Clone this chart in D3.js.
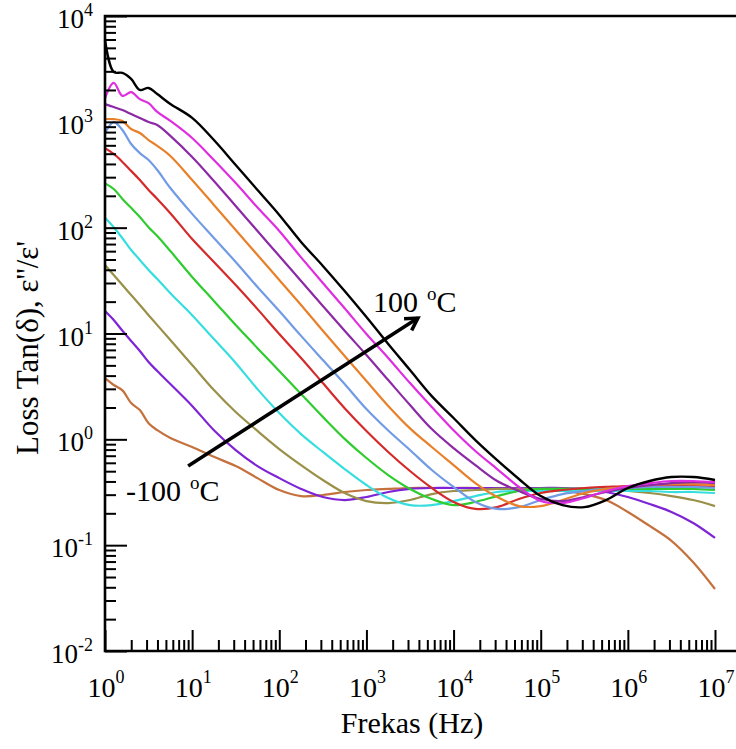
<!DOCTYPE html>
<html>
<head>
<meta charset="utf-8">
<script src="https://cdn.jsdelivr.net/npm/d3@7"></script>
<style>
body { margin: 0; background: #fff; }
svg { display: block; font-family: "Liberation Serif", "Times New Roman", serif; }
</style>
</head>
<body>
<div class="chart"></div>
<script>
// frequency grid (Hz), shared by all curves
const freq = [1, 1.259, 1.585, 1.995, 2.512, 3.162, 3.981, 5.623, 10, 17.78, 31.62, 56.23,
    100, 177.8, 316.2, 562.3, 1000, 1778, 3162, 5623, 1e4, 17780, 31620, 56230,
    1e5, 177800, 316200, 562300, 1e6, 1778000, 3162000, 5623000, 1e7]

// loss tangent per temperature
const tanM100 = [3.78, 3.26, 2.9, 2.2, 1.89, 1.42, 1.22, 1.03, 0.845, 0.683, 0.559, 0.43, 0.332, 0.291, 0.298, 0.318,
    0.332, 0.34, 0.347, 0.347, 0.347, 0.347, 0.34, 0.34, 0.332, 0.325, 0.304, 0.267, 0.206, 0.152, 0.11, 0.069, 0.0385]
const tanM80 = [16.3, 13.4, 10.6, 8.5, 6.84, 5.37, 4.42, 3.33, 2.07, 1.22, 0.792, 0.559, 0.43, 0.34, 0.285, 0.267,
    0.285, 0.318, 0.34, 0.347, 0.347, 0.347, 0.347, 0.347, 0.347, 0.347, 0.34, 0.318, 0.285, 0.245, 0.206, 0.162, 0.117]
const tanM60 = [44.4, 35.7, 28.7, 23.1, 18.6, 14.9, 12.0, 8.68, 5.04, 2.92, 1.81, 1.2, 0.81, 0.571, 0.413, 0.311,
    0.261, 0.25, 0.267, 0.304, 0.325, 0.332, 0.34, 0.34, 0.34, 0.34, 0.34, 0.332, 0.325, 0.311, 0.291, 0.267, 0.234]
const tanM40 = [124, 101, 79.5, 61.5, 49.5, 39.8, 32.7, 24.0, 14.9, 8.86, 5.27, 2.98, 1.77, 1.12, 0.76, 0.524,
    0.37, 0.279, 0.239, 0.239, 0.261, 0.291, 0.318, 0.325, 0.325, 0.325, 0.325, 0.325, 0.325, 0.325, 0.318, 0.318, 0.311]
const tanM20 = [262, 232, 187, 154, 126, 101, 83.3, 60.1, 34.2, 20.3, 12.0, 7.27, 4.42, 2.68, 1.63, 1.01,
    0.666, 0.46, 0.34, 0.273, 0.239, 0.256, 0.291, 0.325, 0.34, 0.34, 0.34, 0.34, 0.34, 0.34, 0.34, 0.34, 0.332]
const tan0 = [565, 497, 418, 344, 282, 227, 187, 137, 78, 47.4, 28.7, 17.0, 9.9, 5.87, 3.4, 1.97,
    1.2, 0.76, 0.502, 0.347, 0.256, 0.22, 0.229, 0.273, 0.311, 0.332, 0.347, 0.355, 0.362, 0.362, 0.362, 0.362, 0.355]
const tan20 = [785, 995, 837, 617, 506, 436, 351, 237, 135, 80, 47.4, 27.5, 16.3, 9.5, 5.62, 3.33,
    1.93, 1.21, 0.792, 0.513, 0.355, 0.256, 0.22, 0.229, 0.267, 0.304, 0.325, 0.34, 0.347, 0.355, 0.355, 0.355, 0.347]
const tan40 = [1060, 1060, 1020, 855, 785, 673, 592, 476, 282, 164, 95, 55.2, 32, 18.6, 10.6, 6.12,
    3.56, 2.07, 1.27, 0.846, 0.571, 0.386, 0.285, 0.234, 0.234, 0.267, 0.311, 0.34, 0.355, 0.37, 0.378, 0.378, 0.37]
const tan60 = [1470, 1380, 1294, 1185, 1085, 995, 934, 736, 465, 276, 160, 93, 54, 31.4, 18.2, 10.6,
    6.26, 3.63, 2.11, 1.25, 0.826, 0.571, 0.404, 0.325, 0.273, 0.261, 0.285, 0.318, 0.347, 0.37, 0.386, 0.395, 0.386]
const tan80 = [1670, 2330, 1760, 1910, 1640, 1500, 1240, 1020, 703, 436, 264, 155, 93, 52.4, 30.0, 17.3,
    9.9, 5.87, 3.4, 2.02, 1.22, 0.776, 0.524, 0.355, 0.261, 0.25, 0.279, 0.325, 0.362, 0.386, 0.404, 0.404, 0.395]
const tan100 = [5930, 2960, 2900, 2540, 2000, 2090, 1830, 1475, 1090, 673, 391, 227, 132, 73.2, 43.5, 25.2,
    14.3, 7.95, 4.52, 2.56, 1.59, 0.985, 0.637, 0.422, 0.291, 0.239, 0.229, 0.267, 0.347, 0.404, 0.44, 0.44, 0.413]

const temps = [-100, -80, -60, -40, -20, 0, 20, 40, 60, 80, 100]
const colors = ['#c4713d', '#7e24d6', '#9a9048', '#38dede', '#2fcc2f', '#d42a2a',
    '#729be6', '#e8802a', '#8c2aa6', '#df2edf', '#000000']
const allValues = [tanM100, tanM80, tanM60, tanM40, tanM20, tan0, tan20, tan40, tan60, tan80, tan100]

const xExps = [0, 1, 2, 3, 4, 5, 6, 7]
const yExps = [-2, -1, 0, 1, 2, 3, 4]

// arrow from -100 to 100 (data coords)
const arrowFrom = [9, 0.56]
const arrowTo = [3900, 14]

const width = 736
const height = 749

const svg = d3.select('.chart')
    .append('svg')
    .attr('width', width)
    .attr('height', height)

const x = d3.scaleLog().domain([1, 1e7]).range([105, 715])
const y = d3.scaleLog().domain([1e-2, 1e4]).range([651, 16])

const minorX = []
xExps.slice(0, -1).forEach(e => { for (let k = 2; k <= 9; k++) minorX.push(k * Math.pow(10, e)) })
const minorY = []
yExps.slice(0, -1).forEach(e => { for (let k = 2; k <= 9; k++) minorY.push(k * Math.pow(10, e)) })

// curves
const line = d3.line()
    .x(d => x(d[0]))
    .y(d => y(d[1]))
    .curve(d3.curveCatmullRom.alpha(0.5))

svg.append('g')
    .selectAll('path')
    .data(temps)
    .enter()
    .append('path')
    .attr('d', (t, i) => line(freq.map((f, j) => [f, allValues[i][j]])))
    .attr('fill', 'none')
    .attr('stroke', (t, i) => colors[i])
    .attr('stroke-width', (t, i) => t === 100 ? 2.4 : 2.2)
    .attr('stroke-linejoin', 'round')

// axes: ticks pointing inward
const styleAxis = g => {
    g.select('.domain').remove()
    g.selectAll('line').attr('stroke', '#000').attr('stroke-width', 2)
    g.selectAll('text').remove()
}

svg.append('g')
    .attr('transform', 'translate(105,0)')
    .call(d3.axisLeft(y).tickValues(yExps.map(e => Math.pow(10, e))).tickSize(-22).tickFormat(''))
    .call(styleAxis)
svg.append('g')
    .attr('transform', 'translate(105,0)')
    .call(d3.axisLeft(y).tickValues(minorY).tickSize(-11).tickFormat(''))
    .call(styleAxis)
svg.append('g')
    .attr('transform', 'translate(0,651)')
    .call(d3.axisBottom(x).tickValues(xExps.map(e => Math.pow(10, e))).tickSize(-21).tickFormat(''))
    .call(styleAxis)
svg.append('g')
    .attr('transform', 'translate(0,651)')
    .call(d3.axisBottom(x).tickValues(minorX).tickSize(-11).tickFormat(''))
    .call(styleAxis)

// frame lines (right side is cut off in the original)
svg.append('path')
    .attr('d', `M${width},16H105V651H${width}`)
    .attr('fill', 'none')
    .attr('stroke', '#000')
    .attr('stroke-width', 2.6)

// tick labels with superscripts
const yLab = svg.append('g')
    .selectAll('text')
    .data(yExps)
    .enter()
    .append('text')
    .attr('x', 93)
    .attr('y', e => y(Math.pow(10, e)) + 12)
    .attr('text-anchor', 'end')
    .attr('font-size', 27)
    .text('10')
yLab.append('tspan')
    .attr('dy', -12)
    .attr('font-size', 18)
    .text(e => e)

const xLab = svg.append('g')
    .selectAll('text')
    .data(xExps)
    .enter()
    .append('text')
    .attr('x', e => x(Math.pow(10, e)) + 1)
    .attr('y', 697)
    .attr('text-anchor', 'middle')
    .attr('font-size', 28)
    .text('10')
xLab.append('tspan')
    .attr('dy', -14)
    .attr('font-size', 18)
    .text(e => e)

// axis titles
svg.append('text')
    .attr('x', 412)
    .attr('y', 733)
    .attr('text-anchor', 'middle')
    .attr('font-size', 30)
    .text('Frekas (Hz)')

svg.append('text')
    .attr('transform', 'translate(38,348) rotate(-90)')
    .attr('text-anchor', 'middle')
    .attr('font-size', 31)
    .text("Loss Tan(δ), ε''/ε'")

// arrow + temperature labels
svg.append('defs')
    .append('marker')
    .attr('id', 'head')
    .attr('markerUnits', 'userSpaceOnUse')
    .attr('viewBox', '-16 -10 20 20')
    .attr('markerWidth', 20)
    .attr('markerHeight', 20)
    .attr('orient', 'auto')
    .append('path')
    .attr('d', 'M-12,-7L0,0L-12,7')
    .attr('fill', 'none')
    .attr('stroke', '#000')
    .attr('stroke-width', 3.5)

svg.append('line')
    .attr('x1', x(arrowFrom[0]))
    .attr('y1', y(arrowFrom[1]))
    .attr('x2', x(arrowTo[0]))
    .attr('y2', y(arrowTo[1]))
    .attr('stroke', '#000')
    .attr('stroke-width', 3.5)
    .attr('marker-end', 'url(#head)')

const tempLabel = (px, py, num) => {
    const t = svg.append('text')
        .attr('x', px)
        .attr('y', py)
        .attr('font-size', 30)
        .text(num)
    t.append('tspan').attr('dx', 9).attr('dy', -12).attr('font-size', 19).text('o')
    t.append('tspan').attr('dy', 12).text('C')
}
tempLabel(373, 312, '100')
tempLabel(126, 501, '-100')
</script>
</body>
</html>
